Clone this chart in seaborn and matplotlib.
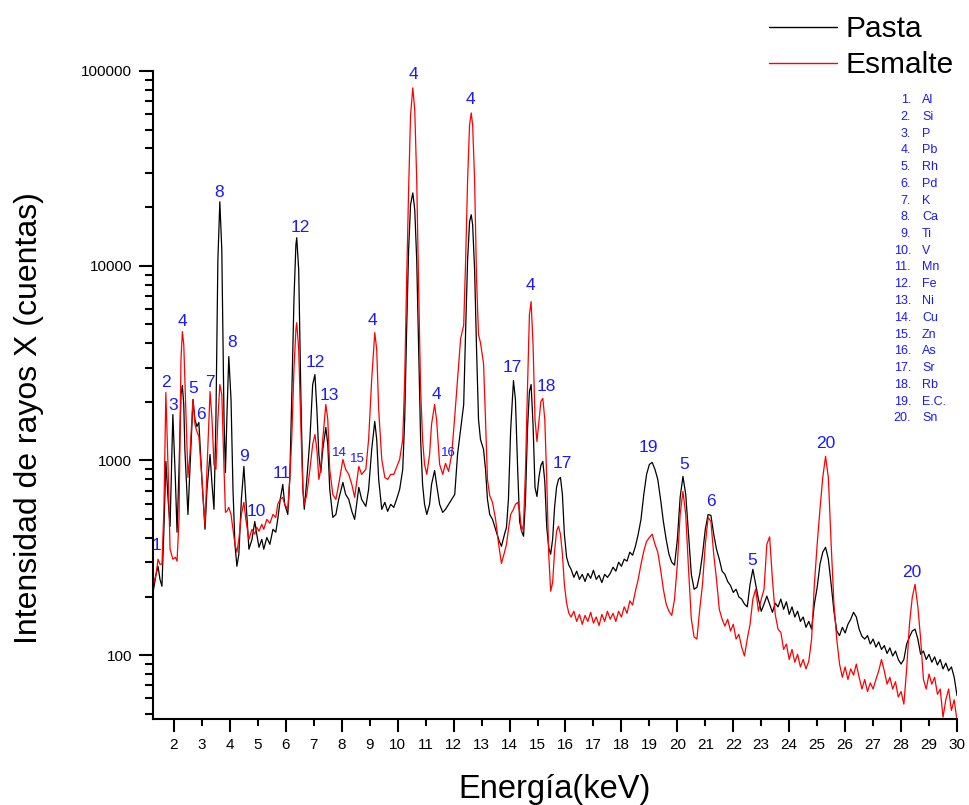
import matplotlib
matplotlib.use("Agg")
import matplotlib.pyplot as plt
import numpy as np
import pandas as pd
import seaborn as sns
from matplotlib.lines import Line2D
from matplotlib.ticker import FixedLocator, FuncFormatter, NullFormatter, LogLocator

# ---------------- data ----------------
energia_keV = [
    1.25, 1.36, 1.43, 1.50, 1.57, 1.64, 1.71, 1.79, 1.86, 1.96,
    2.05, 2.11, 2.18, 2.25, 2.30, 2.35, 2.39, 2.50, 2.57, 2.68, 2.75, 2.82,
    2.89, 3.00, 3.11, 3.18, 3.29, 3.36, 3.43, 3.50, 3.57, 3.64,
    3.71, 3.79, 3.84, 3.89, 3.96, 4.04, 4.11, 4.18, 4.25, 4.32,
    4.41, 4.50, 4.57, 4.68, 4.79, 4.89, 4.96, 5.04, 5.14, 5.21,
    5.32, 5.43, 5.54, 5.64, 5.71, 5.80, 5.89, 5.96, 6.07, 6.14,
    6.21, 6.29, 6.36, 6.39, 6.46, 6.54, 6.61, 6.66, 6.75, 6.86,
    6.96, 7.04, 7.11, 7.18, 7.25, 7.32, 7.43, 7.50, 7.57, 7.68,
    7.79, 7.89, 8.04, 8.14, 8.25, 8.36, 8.46, 8.61, 8.71, 8.86,
    8.96, 9.07, 9.18, 9.25, 9.32, 9.43, 9.54, 9.64, 9.75, 9.86,
    9.96, 10.07, 10.18, 10.25, 10.32, 10.39, 10.46, 10.54, 10.61, 10.68,
    10.75, 10.82, 10.89, 10.96, 11.04, 11.14, 11.21, 11.32, 11.39, 11.50,
    11.61, 11.71, 11.82, 11.93, 12.04, 12.14, 12.25, 12.36, 12.43, 12.50,
    12.57, 12.63, 12.68, 12.75, 12.82, 12.89, 12.96, 13.07, 13.14, 13.21,
    13.29, 13.39, 13.50, 13.61, 13.71, 13.82, 13.89, 13.96, 14.04, 14.14,
    14.21, 14.29, 14.36, 14.43, 14.50, 14.57, 14.64, 14.71, 14.77, 14.84,
    14.91, 14.98, 15.05, 15.12, 15.19, 15.26, 15.33, 15.40, 15.47, 15.54,
    15.61, 15.68, 15.75, 15.82, 15.89, 15.96, 16.04, 16.12,
    16.2, 16.3, 16.4, 16.5, 16.6, 16.7, 16.8, 16.9, 17.0, 17.1,
    17.2, 17.3, 17.4, 17.5, 17.6, 17.7, 17.8, 17.9, 18.0, 18.1,
    18.2, 18.3, 18.4, 18.5, 18.6, 18.7, 18.8, 18.9, 19.0, 19.1,
    19.2, 19.3, 19.4, 19.5, 19.6, 19.7, 19.8, 19.9, 20.0, 20.1,
    20.2, 20.3, 20.4, 20.5, 20.6, 20.7, 20.8, 20.9, 21.0, 21.1,
    21.2, 21.3, 21.4, 21.5, 21.6, 21.7, 21.8, 21.9, 22.0, 22.1,
    22.2, 22.3, 22.4, 22.5, 22.6, 22.7, 22.8, 22.9, 23.0, 23.1,
    23.2, 23.3, 23.4, 23.5, 23.6, 23.7, 23.8, 23.9, 24.0, 24.1,
    24.2, 24.3, 24.4, 24.5, 24.6, 24.7, 24.8, 24.9, 25.0, 25.1,
    25.2, 25.3, 25.4, 25.5, 25.6, 25.7, 25.8, 25.9, 26.0, 26.1,
    26.2, 26.3, 26.4, 26.5, 26.6, 26.7, 26.8, 26.9, 27.0, 27.1,
    27.2, 27.3, 27.4, 27.5, 27.6, 27.7, 27.8, 27.9, 28.0, 28.1,
    28.2, 28.3, 28.4, 28.5, 28.6, 28.7, 28.8, 28.9, 29.0, 29.1,
    29.2, 29.3, 29.4, 29.5, 29.6, 29.7, 29.8, 29.9, 30.0,
]

cuentas_pasta = [
    210, 260, 286, 245, 226, 443, 988, 631, 459, 1721,
    799, 428, 899, 2180, 2424, 1937, 1138, 528, 899, 2055, 1623, 1494,
    1567, 799, 443, 710, 1073, 753, 561, 1623, 10740, 21300,
    12080, 1623, 868, 1623, 3414, 2055, 710, 371, 286, 330,
    631, 932, 631, 350, 393, 486, 418, 358, 393, 350,
    402, 371, 443, 428, 498, 631, 753, 595, 528, 799,
    2055, 6694, 12820, 13930, 9540, 2055, 710, 561, 799, 1281,
    2453, 2760, 1826, 1073, 868, 1138, 1477, 1208, 710, 510,
    528, 631, 771, 669, 631, 548, 498, 727, 631, 581,
    710, 1138, 1585, 1281, 799, 561, 609, 548, 595, 574,
    631, 710, 899, 1623, 4697, 12080, 20560, 23660, 19380, 10740,
    3708, 1281, 753, 595, 528, 595, 753, 888, 753, 595,
    541, 561, 595, 631, 669, 1073, 1442, 1937, 4697, 10740,
    16810, 18270, 16230, 9540, 3708, 1623, 1281, 1138, 899, 631,
    528, 498, 443, 393, 362, 418, 454, 631, 1442, 2571,
    2055, 899, 486, 433, 408, 631, 1442, 2258, 2453, 1530,
    727, 653, 818, 943, 988, 780, 454, 358, 330, 393,
    574, 727, 799, 818, 669, 418, 318, 290,
    276, 251, 270, 245, 260, 239, 263, 248, 273, 245,
    257, 236, 260, 251, 263, 283, 270, 300, 286, 311,
    304, 338, 326, 362, 418, 498, 669, 848, 954, 977,
    899, 799, 631, 486, 393, 330, 300, 290, 393, 646,
    828, 669, 418, 260, 218, 223, 260, 330, 443, 528,
    522, 418, 350, 311, 270, 260, 239, 228, 210, 218,
    199, 194, 183, 177, 231, 276, 231, 194, 168, 183,
    201, 183, 166, 185, 177, 194, 172, 188, 162, 177,
    157, 168, 149, 157, 139, 149, 136, 183, 223, 293,
    338, 358, 311, 231, 168, 133, 126, 139, 130, 144,
    153, 166, 157, 136, 125, 121, 126, 114, 121, 110,
    117, 107, 112, 102, 109, 99, 105, 95, 90, 95,
    114, 124, 133, 136, 121, 101, 105, 95, 101, 92,
    98, 89, 95, 85, 91, 83, 87, 77, 62,
]

cuentas_esmalte = [
    226, 260, 311, 293, 293, 561, 2232, 899, 350, 311,
    318, 304, 498, 3295, 4587, 3930, 2602, 818, 1073, 2055, 1530, 1408,
    1327, 799, 459, 899, 2258, 1623, 954, 899, 1623, 2453,
    2180, 899, 541, 548, 574, 528, 443, 371, 338, 393,
    528, 609, 498, 393, 443, 418, 454, 433, 470, 443,
    498, 476, 528, 510, 595, 631, 646, 595, 561, 799,
    1281, 2928, 4697, 5100, 3708, 1442, 710, 595, 669, 899,
    1208, 1359, 1138, 799, 899, 1281, 1937, 1623, 899, 669,
    631, 753, 1012, 899, 848, 753, 646, 932, 848, 899,
    1281, 2602, 4534, 3708, 1826, 1012, 818, 799, 848, 848,
    921, 1012, 1281, 2602, 8477, 24500, 59470, 81860, 63100, 27620,
    7533, 2312, 1281, 954, 848, 1073, 1530, 1937, 1623, 954,
    848, 966, 878, 1073, 1680, 2602, 4223, 4940, 10740, 27620,
    52870, 60900, 52870, 27620, 8477, 4427, 4020, 3140, 1623, 799,
    660, 609, 498, 371, 296, 338, 371, 443, 528, 561,
    595, 609, 548, 433, 470, 899, 2312, 5600, 6540, 3930,
    1623, 1250, 1585, 2010, 2080, 1623, 799, 330, 213, 236,
    342, 433, 459, 418, 330, 231, 185, 164,
    157, 168, 149, 162, 144, 160, 149, 166, 146, 157,
    142, 162, 149, 168, 153, 164, 149, 168, 157, 177,
    164, 190, 181, 213, 245, 293, 342, 384, 402, 418,
    371, 338, 276, 218, 183, 168, 160, 194, 293, 528,
    693, 528, 276, 153, 124, 121, 172, 231, 371, 510,
    486, 330, 245, 172, 153, 141, 153, 133, 144, 121,
    128, 110, 99, 121, 144, 194, 218, 168, 194, 218,
    371, 405, 245, 162, 136, 131, 107, 114, 95, 107,
    92, 101, 87, 95, 85, 93, 121, 231, 371, 561,
    818, 1050, 818, 371, 183, 121, 90, 77, 87, 75,
    85, 79, 90, 77, 67, 75, 65, 72, 67, 75,
    83, 95, 83, 71, 77, 67, 73, 61, 65, 56,
    85, 144, 198, 231, 177, 121, 75, 67, 80, 71,
    77, 63, 67, 48, 59, 67, 52, 59, 46,
]

series = ["Pasta", "Esmalte"]

# peak annotations: (text, energy keV, counts, small)
picos = [
    ("1", 1.39, 367, False), ("2", 1.71, 2512, False), ("3", 1.96, 1914, False),
    ("4", 2.32, 5164, False), ("5", 2.68, 2339, False), ("6", 2.95, 1721, False),
    ("7", 3.29, 2512, False), ("8", 3.61, 23660, False), ("8", 4.07, 4027, False),
    ("9", 4.50, 1049, False), ("10", 4.96, 547, False), ("11", 5.86, 857, False),
    ("12", 6.50, 15730, False), ("12", 7.04, 3198, False), ("13", 7.57, 2154, False),
    ("14", 7.93, 1091, True), ("15", 8.57, 1019, True), ("4", 9.11, 5224, False),
    ("4", 10.55, 95900, False), ("4", 11.37, 2193, False), ("16", 11.80, 1087, True),
    ("4", 12.61, 71000, False), ("17", 14.11, 3000, False), ("4", 14.75, 7890, False),
    ("18", 15.32, 2410, False), ("17", 15.89, 970, False), ("19", 18.96, 1159, False),
    ("5", 20.25, 953, False), ("6", 21.20, 616, False), ("5", 22.68, 305, False),
    ("20", 25.32, 1222, False), ("20", 28.39, 267, False),
]

elementos = ["Al", "Si", "P", "Pb", "Rh", "Pd", "K", "Ca", "Ti", "V",
             "Mn", "Fe", "Ni", "Cu", "Zn", "As", "Sr", "Rb", "E.C.", "Sn"]

# ---------------- figure ----------------
sns.set_theme(style="ticks")
plt.rcParams['font.family'] = ['Liberation Sans', 'DejaVu Sans']
plt.rcParams['axes.edgecolor'] = 'black'
plt.rcParams['xtick.color'] = 'black'
plt.rcParams['ytick.color'] = 'black'
plt.rcParams['text.color'] = 'black'

W, H = 969, 805
fig = plt.figure(figsize=(W / 100, H / 100), dpi=100)
ax = fig.add_axes([153 / W, 86 / H, (957 - 153) / W, (734 - 86) / H])

n = len(energia_keV)
df = pd.DataFrame({
    "Energía": energia_keV + energia_keV,
    "Cuentas": cuentas_pasta + cuentas_esmalte,
    "Muestra": [series[0]] * n + [series[1]] * n,
})
colores = {"Pasta": "black", "Esmalte": "#ff0000"}
sns.lineplot(data=df, x="Energía", y="Cuentas", hue="Muestra", hue_order=series,
             palette=colores, estimator=None, sort=False, linewidth=0.9,
             legend=False, ax=ax)

ax.set_yscale('log')
ax.set_xlim(1.25, 30)
ax.set_ylim(47, 100000)
ax.set_xlabel("")
ax.set_ylabel("")

for s in ["top", "right"]:
    ax.spines[s].set_visible(False)
for s in ["left", "bottom"]:
    ax.spines[s].set_linewidth(1.5)
    ax.spines[s].set_color("black")

ax.xaxis.set_major_locator(FixedLocator(list(range(2, 31, 2))))
ax.xaxis.set_minor_locator(FixedLocator(list(range(3, 30, 2))))
fmt = FuncFormatter(lambda v, p: "%d" % round(v))
ax.xaxis.set_major_formatter(fmt)
ax.xaxis.set_minor_formatter(fmt)
ax.tick_params(axis='x', which='major', direction='out', length=9.5, width=1.5,
               pad=4, labelsize=11, colors='black')
ax.tick_params(axis='x', which='minor', direction='out', length=5, width=1.5,
               pad=8.5, labelsize=11, colors='black')

ax.yaxis.set_major_locator(FixedLocator([100, 1000, 10000, 100000]))
ax.yaxis.set_major_formatter(FuncFormatter(lambda v, p: "%d" % round(v)))
ax.yaxis.set_minor_locator(LogLocator(base=10, subs=np.arange(2, 10)))
ax.yaxis.set_minor_formatter(NullFormatter())
ax.tick_params(axis='y', which='major', direction='out', length=10, width=1.5,
               pad=5, labelsize=11, colors='black')
ax.tick_params(axis='y', which='minor', direction='out', length=5.5, width=1.5)

azul = "#1a1aff"
for txt, e, c, small in picos:
    ax.text(e, c, txt, ha='center', va='center', color=azul,
            fontsize=9.5 if small else 12.5)

# axis labels
fig.text(555 / W, 1 - 798 / H, "Energía(keV)", ha='center', va='baseline', fontsize=23.5)
fig.text(29 / W, 1 - 418 / H, "Intensidad de rayos X (cuentas)", ha='center',
         va='center', rotation=90, fontsize=23)

# legend
handles = [Line2D([], [], color=colores[s], lw=1.0) for s in series]
ax.legend(handles, series, loc='upper right', bbox_to_anchor=(954 / W, 1 - 15 / H),
          bbox_transform=fig.transFigure, frameon=False, fontsize=21.5,
          handlelength=2.27, handletextpad=0.3, labelspacing=0.27,
          borderpad=0, borderaxespad=0)

# element list
for i, el in enumerate(elementos):
    y = 1 - (100 + i * 16.75) / H
    fig.text(911 / W, y, "%d." % (i + 1), ha='right', va='center', color=azul, fontsize=9)
    fig.text(922 / W, y, el, ha='left', va='center', color=azul, fontsize=9)

fig.savefig("out.png", dpi=100)
